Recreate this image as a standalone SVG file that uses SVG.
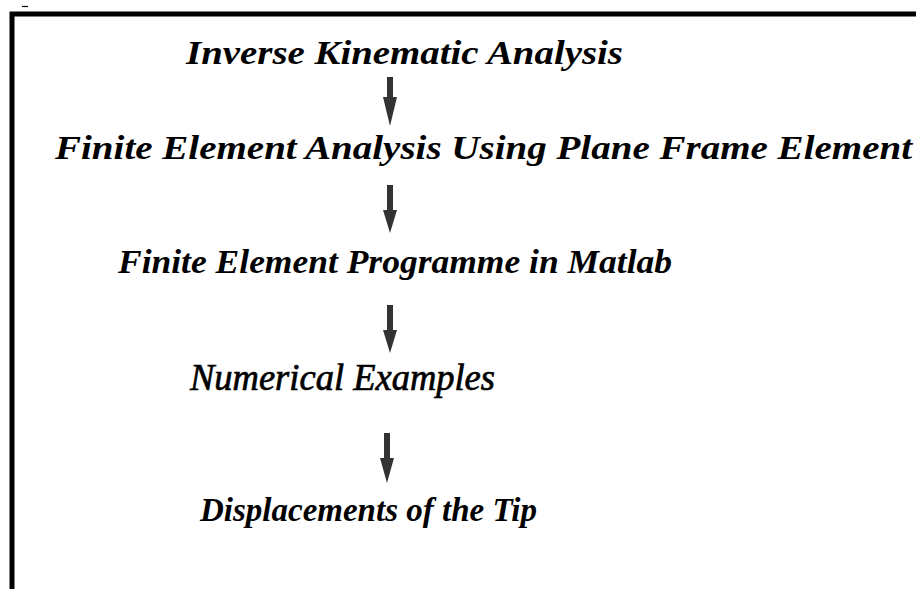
<svg xmlns="http://www.w3.org/2000/svg" width="916" height="589" viewBox="0 0 916 589">
  <style>
    .t { font-family: "Liberation Serif", "Times New Roman", serif; font-style: italic; font-weight: bold; fill: #000; }
    .n { font-weight: normal; stroke: #000; stroke-width: 0.7; }
    .arrow { fill: #333; }
    .frame { stroke: #000; stroke-width: 5; fill: none; }
  </style>
  <rect width="916" height="589" fill="#fff"/>
  <g id="frame">
    <path class="frame" d="M12 589 V14 H916"/>
    <line x1="22" y1="6.5" x2="28" y2="6.5" stroke="#000" stroke-width="1.2"/>
  </g>
  <g id="n1"><text class="t" x="186" y="64" font-size="33" textLength="437" lengthAdjust="spacingAndGlyphs">Inverse Kinematic Analysis</text></g>
  <g id="n2"><text class="t" x="55" y="159" font-size="34" textLength="857" lengthAdjust="spacingAndGlyphs">Finite Element Analysis Using Plane Frame Element</text></g>
  <g id="n3"><text class="t" x="118" y="273" font-size="34" textLength="554" lengthAdjust="spacingAndGlyphs">Finite Element Programme in Matlab</text></g>
  <g id="n4"><text class="t n" x="190" y="390" font-size="37" textLength="305" lengthAdjust="spacingAndGlyphs">Numerical Examples</text></g>
  <g id="n5"><text class="t" x="200" y="521" font-size="33" textLength="337" lengthAdjust="spacingAndGlyphs">Displacements of the Tip</text></g>
  <g id="connectors">
    <polygon class="arrow" points="387,77 393,77 393,97 397,97 390,126 383,97 387,97"/>
    <polygon class="arrow" points="387,185 393,185 393,210 397,210 390,233 383,210 387,210"/>
    <polygon class="arrow" points="387,305 393,305 393,330 397,330 390,353 383,330 387,330"/>
    <polygon class="arrow" points="384,433 390,433 390,458 394,458 387,483 380,458 384,458"/>
  </g>
</svg>
